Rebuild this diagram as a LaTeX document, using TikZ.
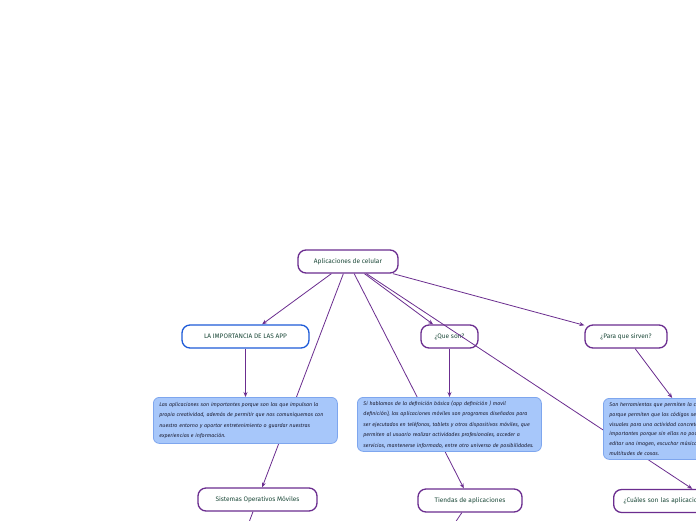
\documentclass[tikz,border=0pt]{standalone}
\usepackage{fontspec}
\setmainfont{Fira Sans}
\usetikzlibrary{arrows.meta}
\definecolor{MapPurple}{HTML}{6B2D8F}
\definecolor{MapBlue}{HTML}{1E5BD8}
\definecolor{InfoFill}{HTML}{A7C7FA}
\definecolor{InfoEdge}{HTML}{7EA6EE}
\definecolor{TopicText}{HTML}{1D4A3A}
\definecolor{InfoText}{HTML}{1A1A2E}
\pgfdeclarelayer{bg}
\pgfsetlayers{bg,main}

\begin{document}
\begin{tikzpicture}[x=1pt, y=-1pt,
  topic/.style={draw=MapPurple, line width=1.3pt, fill=white, rounded corners=8pt, minimum height=23pt, inner xsep=10pt, inner ysep=0pt, text=TopicText, font=\fontsize{6.5}{8}\selectfont},
  info/.style={draw=InfoEdge, line width=0.8pt, fill=InfoFill, rounded corners=6pt, anchor=north west, inner xsep=6pt, inner ysep=3pt, align=left, text width=172pt, text=InfoText, font=\fontsize{5.3}{10.5}\selectfont\itshape},
  link/.style={draw=MapPurple, line width=0.8pt, -{Stealth[length=5pt,width=4pt]}}
]
\useasboundingbox (0,0) rectangle (696,520);
\clip (0,0) rectangle (696,520);

\node[topic, minimum width=100pt] (mainnode) at (348,261.5) {Aplicaciones de celular};
\node[topic, draw=MapBlue, minimum width=127pt] (imp) at (245.5,336.5) {LA IMPORTANCIA DE LAS APP};
\node[topic, minimum width=57pt] (queson) at (449.5,336.5) {¿Que son?};
\node[topic, minimum width=82pt] (para) at (626,336.5) {¿Para que sirven?};
\node[topic, minimum width=119pt] (sistemas) at (257.5,499.5) {Sistemas Operativos Móviles};
\node[topic, minimum width=104pt] (tiendas) at (470,500.5) {Tiendas de aplicaciones};
\node[topic, anchor=west, text width=174pt, align=left] (cuales) at (613,501) {¿Cuáles son las aplicaciones más usadas?};

% this one runs over the "¿Que son?" box
\draw[link] (mainnode) -- (cuales);

\node[info, minimum height=46pt] (impinfo) at (153,397) {Las aplicaciones son importantes porque son las que impulsan la\\
propia creatividad, además de permitir que nos comuniquemos con\\
nuestro entorno y aportar entretenimiento o guardar nuestras\\
experiencias e información.};
\node[info, minimum height=54pt] (quesoninfo) at (357,397) {Si hablamos de la definición básica (app definición ) movil\\
definición), las aplicaciones móviles son programas diseñados para\\
ser ejecutados en teléfonos, tablets y otros dispositivos móviles, que\\
permiten al usuario realizar actividades profesionales, acceder a\\
servicios, mantenerse informado, entre otro universo de posibilidades.};
\node[info, minimum height=61pt, font=\fontsize{5.3}{9.8}\selectfont\itshape] (parainfo) at (603,398) {Son herramientas que permiten la comunicación\\
porque permiten que los códigos sean\\
visuales para una actividad concreta, son\\
importantes porque sin ellas no podríamos\\
editar una imagen, escuchar música y\\
multitudes de cosas.};

\coordinate (sisdown) at (235,560);
\coordinate (tiedown) at (430,560);

% connectors under the boxes
\begin{pgfonlayer}{bg}
\fill[white] (0,0) rectangle (696,520);
\clip (0,0) rectangle (696,520);
\draw[link] (mainnode) -- (imp);
\draw[link] (mainnode) -- (sistemas);
\draw[link] (mainnode) -- (tiendas);
\draw[link] (mainnode) -- (queson);
\draw[link] (mainnode) -- (para);
\draw[link] (imp) -- (imp |- impinfo.north);
\draw[link] (queson) -- (queson |- quesoninfo.north);
\draw[link] (para) -- (parainfo);
\draw[link] (sistemas) -- (sisdown);
\draw[link] (tiendas) -- (tiedown);
\end{pgfonlayer}
\end{tikzpicture}
\end{document}
